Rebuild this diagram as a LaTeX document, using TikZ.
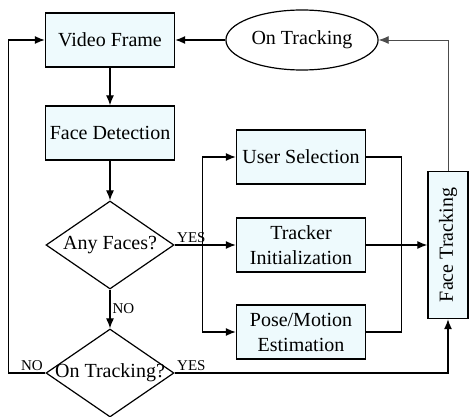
\documentclass[tikz,border=0pt]{standalone}
\usepackage{fontspec}
\setmainfont{Liberation Serif}
\usetikzlibrary{shapes.geometric,arrows.meta}
\definecolor{boxfill}{RGB}{238,250,253}

\tikzset{%
  % Specifications for style of nodes:
         base/.style = {rectangle, draw = black, line width=1.4pt, minimum width=129pt, minimum height=54pt, fill=boxfill, align=center, font=\fontsize{20}{25}\selectfont},
     decision/.style = {diamond, draw = black, line width=1.2pt, aspect=1.47, minimum width=128pt, minimum height=88pt, inner sep=-3pt, fill=white, font=\fontsize{20}{24}\selectfont},
        state/.style = {ellipse, draw = black, line width=1.2pt, minimum width=130pt, minimum height=60pt, fill=white, font=\fontsize{20}{24}\selectfont},
       answer/.style = {font=\fontsize{15}{17}\selectfont, inner sep=2pt},
}

\begin{document}
\begin{tikzpicture}[x=1pt, y=1pt, >={Latex[length=10pt,width=8pt]}]
    \useasboundingbox (0,0) rectangle (469,-417);

    % Draw nodes
    \node (video)     [base] at (110,-40)                              {Video Frame};
    \node (detect)    [base, node distance=93pt, below of = video]     {Face Detection};
    \node (faces)     [decision, node distance=112pt, below of = detect] {Any Faces?};
    \node (ontrackq)  [decision, node distance=128pt, below of = faces]  {On Tracking?};
    \node (ontrack)   [state] at (302,-40)                             {On Tracking};
    \node (select)    [base] at (301,-157)                             {User Selection};
    \node (init)      [base, node distance=88pt, below of = select]    {Tracker\\Initialization};
    \node (pose)      [base, node distance=87pt, below of = init]      {Pose/Motion\\Estimation};
    \node (tracking)  [base, minimum width=40pt, minimum height=147pt] at (448,-245) {\rotatebox{90}{Face Tracking}};

    \coordinate (split) at ([xshift=28pt]faces.east);
    \coordinate (merge) at ([xshift=35pt]select.east);

    % Draw arrows
    \draw[->,very thick]        (ontrack) -- (video);
    \draw[->,very thick]          (video) -- (detect);
    \draw[->,very thick]         (detect) -- (faces);
    \draw[->,very thick]          (faces) -- node[answer, right] {NO} (ontrackq);

    \draw[->,very thick]     (faces.east) -- node[answer, pos=0, above right] {YES} (init);
    \draw[->,very thick]          (split) |- (select);
    \draw[->,very thick]          (split) |- (pose);
    \draw[very thick]      (select.east) -- (merge) |- (pose.east);
    \draw[->,very thick]           (init) -- (tracking);

    \draw[->,thick,black!70]   (tracking) |- (ontrack);
    \draw[->,very thick]       (ontrackq) -| node[answer, pos=0, above right] {YES} (tracking);
    \draw[->,very thick] (ontrackq.west) -- node[answer, pos=0, above left] {NO} ++(-37,0) |- (video);

\end{tikzpicture}
\end{document}
